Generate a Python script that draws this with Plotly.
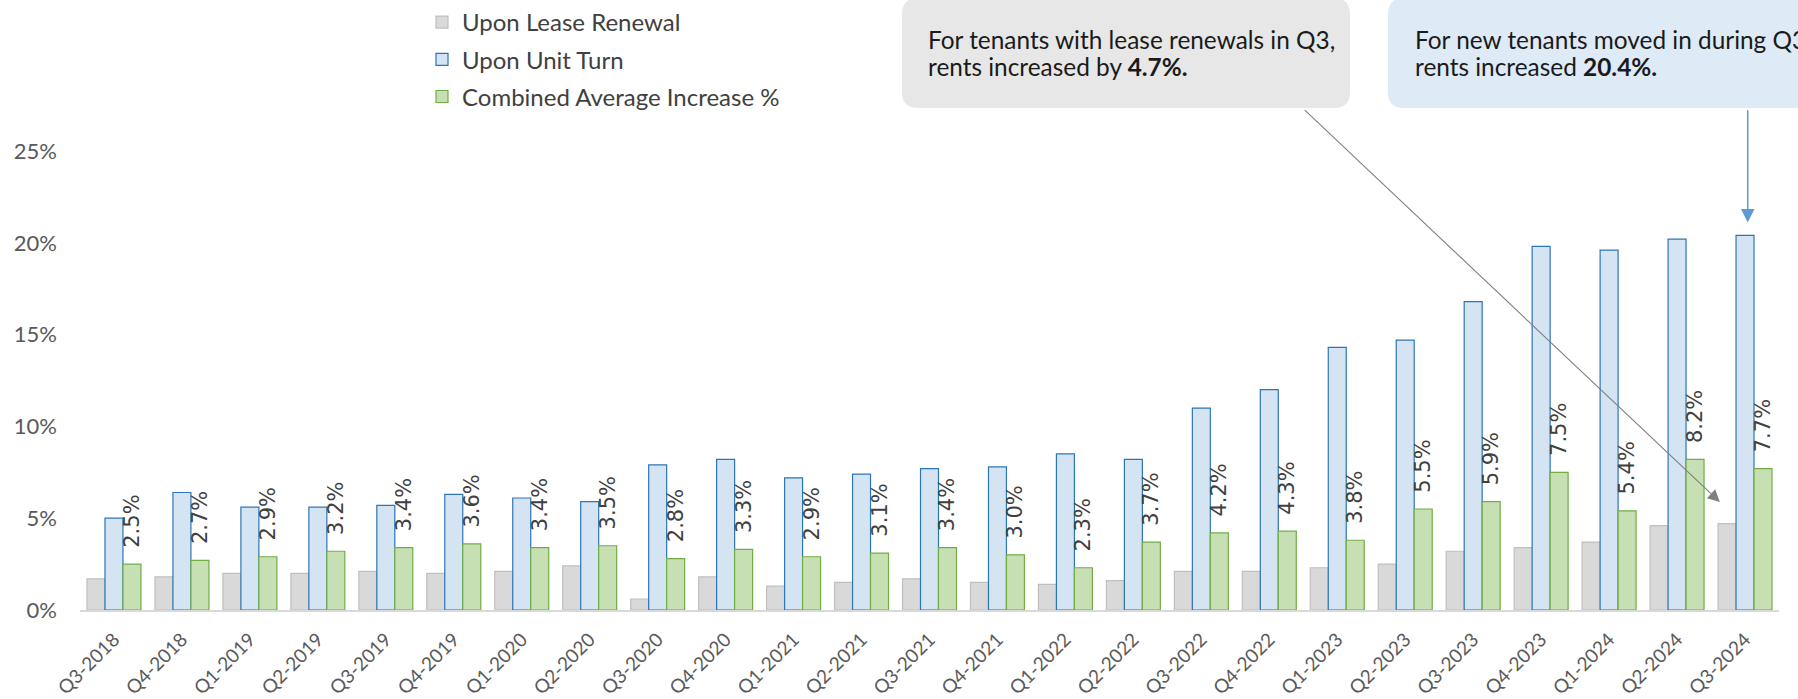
import plotly.graph_objects as go

categories = ["Q3-2018", "Q4-2018", "Q1-2019", "Q2-2019", "Q3-2019", "Q4-2019",
              "Q1-2020", "Q2-2020", "Q3-2020", "Q4-2020", "Q1-2021", "Q2-2021",
              "Q3-2021", "Q4-2021", "Q1-2022", "Q2-2022", "Q3-2022", "Q4-2022",
              "Q1-2023", "Q2-2023", "Q3-2023", "Q4-2023", "Q1-2024", "Q2-2024",
              "Q3-2024"]
lease_renewal = [1.7, 1.8, 2.0, 2.0, 2.1, 2.0, 2.1, 2.4, 0.6, 1.8, 1.3, 1.5,
                 1.7, 1.5, 1.4, 1.6, 2.1, 2.1, 2.3, 2.5, 3.2, 3.4, 3.7, 4.6, 4.7]
unit_turn = [5.0, 6.4, 5.6, 5.6, 5.7, 6.3, 6.1, 5.9, 7.9, 8.2, 7.2, 7.4,
             7.7, 7.8, 8.5, 8.2, 11.0, 12.0, 14.3, 14.7, 16.8, 19.8, 19.6, 20.2, 20.4]
combined = [2.5, 2.7, 2.9, 3.2, 3.4, 3.6, 3.4, 3.5, 2.8, 3.3, 2.9, 3.1,
            3.4, 3.0, 2.3, 3.7, 4.2, 4.3, 3.8, 5.5, 5.9, 7.5, 5.4, 8.2, 7.7]
y_ticks = [0, 5, 10, 15, 20, 25]

callout_renewal = ["For tenants with lease renewals in Q3,", "rents increased by <b>4.7%.</b>"]
callout_turn = ["For new tenants moved in during Q3,", "rents increased <b>20.4%.</b>"]

W, H = 1798, 699
ML, MR, MT, MB = 80, 19, 151, 89
PW, PH = W - ML - MR, H - MT - MB


def px_x(p):
    return (p - ML) / PW


def px_y(p):
    return (H - MB - p) / PH


def rounded_rect(x0, y0, x1, y1, r):
    X0, X1 = px_x(x0), px_x(x1)
    Yt, Yb = px_y(y0), px_y(y1)
    rx, ry = r / PW, r / PH
    return (f"M{X0 + rx},{Yt} L{X1 - rx},{Yt} Q{X1},{Yt} {X1},{Yt - ry} "
            f"L{X1},{Yb + ry} Q{X1},{Yb} {X1 - rx},{Yb} L{X0 + rx},{Yb} "
            f"Q{X0},{Yb} {X0},{Yb + ry} L{X0},{Yt - ry} Q{X0},{Yt} {X0 + rx},{Yt} Z")


fig = go.Figure()
fig.add_trace(go.Bar(
    x=categories, y=lease_renewal, name="Upon Lease Renewal", legendgroup="a",
    marker=dict(color="#d9d9d9", line=dict(color="#bfbfbf", width=1.2)),
))
fig.add_trace(go.Bar(
    x=categories, y=unit_turn, name="Upon Unit Turn", legendgroup="b",
    marker=dict(color="#d4e4f3", line=dict(color="#2e75b6", width=1.2)),
))
fig.add_trace(go.Bar(
    x=categories, y=combined, name="Combined Average Increase %", legendgroup="c",
    marker=dict(color="#c6e0b4", line=dict(color="#70ad47", width=1.2)),
    text=[f"\u00a0\u00a0{v:.1f}%" for v in combined],
    textposition="outside", textangle=-90, constraintext="none", cliponaxis=False,
    textfont=dict(family="DejaVu Sans", size=21, color="#404040"),
))

shapes = [
    dict(type="path", xref="paper", yref="paper", path=rounded_rect(902, -2, 1350, 108, 16),
         fillcolor="#e7e7e7", line=dict(width=0), layer="below"),
    dict(type="path", xref="paper", yref="paper", path=rounded_rect(1388, -2, 1840, 108, 16),
         fillcolor="#deeaf6", line=dict(width=0), layer="below"),
]

annotations = []
for x0, lines in ((926, callout_renewal), (1413, callout_turn)):
    for line, yc in zip(lines, (39, 67)):
        annotations.append(dict(
            xref="paper", yref="paper", x=px_x(x0), y=px_y(yc), xanchor="left",
            yanchor="middle", align="left", showarrow=False, text=line,
            font=dict(family="Lato", size=24.4, color="#1a1a1a")))
annotations += [
    dict(xref="x", yref="y", x=23.63, y=5.88, axref="x", ayref="y", ax=17.5, ay=27.3,
         text="", showarrow=True, arrowhead=2, arrowsize=2.2, arrowwidth=1.1,
         arrowcolor="#7f7f7f", standoff=0),
    dict(xref="x", yref="y", x=24.04, y=21.1, axref="x", ayref="y", ax=24.04, ay=27.3,
         text="", showarrow=True, arrowhead=2, arrowsize=1.8, arrowwidth=1.5,
         arrowcolor="#5b9bd5", standoff=0),
]

fig.update_layout(
    width=W, height=H,
    margin=dict(l=ML, r=MR, t=MT, b=MB, autoexpand=False),
    plot_bgcolor="white", paper_bgcolor="white",
    barmode="group", bargap=0.206, bargroupgap=0,
    font=dict(family="Lato", color="#595959"),
    showlegend=True,
    legend=dict(xref="container", yref="container", x=422 / W, y=1.010,
                xanchor="left", yanchor="top",
                font=dict(family="Lato", size=24, color="#404040"),
                tracegroupgap=3, bgcolor="rgba(0,0,0,0)"),
    shapes=shapes, annotations=annotations,
)
fig.update_xaxes(
    type="category", range=[-0.5, len(categories) - 0.5],
    showline=True, linecolor="#d9d9d9", linewidth=2, showgrid=False,
    tickangle=-45, tickfont=dict(family="Lato", size=19, color="#595959"),
    ticks="", ticklabelstandoff=9,
)
fig.update_yaxes(
    range=[0, 25], tickvals=y_ticks, ticktext=[f"{v}%" for v in y_ticks],
    showgrid=False, zeroline=False, showline=False, ticks="",
    tickfont=dict(family="Lato", size=22, color="#595959"), ticklabelstandoff=22,
)

fig.write_html("out.html", config={"displayModeBar": False},
               post_script="document.body.style.margin='0';document.body.style.overflow='hidden';")
